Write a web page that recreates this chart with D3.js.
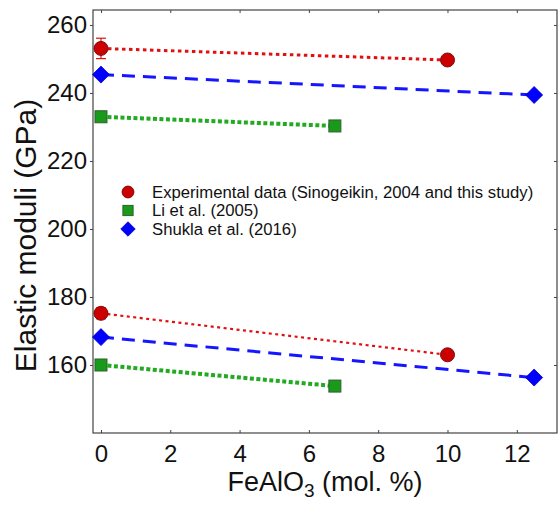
<!DOCTYPE html>
<html>
<head>
<meta charset="utf-8">
<script src="https://cdn.jsdelivr.net/npm/d3@7"></script>
<style>
  html, body { margin: 0; padding: 0; background: #fff; }
  svg { display: block; font-family: Arial, "Liberation Sans", Helvetica, sans-serif; }
</style>
</head>
<body>
<svg id="chart" width="558" height="509"></svg>
<script>
// FeAlO3 content (mol. %) and elastic moduli (GPa)
const xTicks = [0, 2, 4, 6, 8, 10, 12];
const yTicks = [160, 180, 200, 220, 240, 260];

// Upper group and lower group of moduli for each source
const expX = [0, 10];
const expUpper = [253.1, 249.7];
const expUpperErr = [3.0, 0];
const expLower = [175.2, 163.0];
const expLowerErr = [1.6, 0];

const liX = [0, 6.75];
const liUpper = [233.0, 230.3];
const liLower = [160.0, 153.8];

const shuklaX = [0, 12.5];
const shuklaUpper = [245.4, 239.4];
const shuklaLower = [168.2, 156.3];

const legendLabels = [
  "Experimental data (Sinogeikin, 2004 and this study)",
  "Li et al. (2005)",
  "Shukla et al. (2016)"
];

const svg = d3.select("#chart");
const margin = { left: 93, right: 1, top: 10, bottom: 76 };
const W = 558, H = 509;

const x = d3.scaleLinear().domain([-0.23, 13.16]).range([margin.left, W - margin.right]);
const y = d3.scaleLinear().domain([140, 264.4]).range([H - margin.bottom, margin.top]);

const frameColor = "#444";

// Axes
const gx = svg.append("g").attr("transform", `translate(0,${H - margin.bottom})`)
  .call(d3.axisBottom(x).tickValues(xTicks).tickSize(-3).tickPadding(12).tickFormat(d3.format("d")));
const gy = svg.append("g").attr("transform", `translate(${margin.left},0)`)
  .call(d3.axisLeft(y).tickValues(yTicks).tickSize(3).tickPadding(3).tickFormat(d3.format("d")));
const gt = svg.append("g").attr("transform", `translate(0,${margin.top})`)
  .call(d3.axisTop(x).tickValues(xTicks).tickSize(-3).tickFormat(""));
const gr = svg.append("g").attr("transform", `translate(${W - margin.right},0)`)
  .call(d3.axisRight(y).tickValues(yTicks).tickSize(-3).tickFormat(""));

[gx, gy, gt, gr].forEach(g => {
  g.select(".domain").remove();
  g.selectAll("line").attr("stroke", frameColor);
});
gx.selectAll("text").attr("font-size", 24).attr("fill", "#111");
gy.selectAll("text").attr("font-size", 24).attr("fill", "#111");

svg.append("rect")
  .attr("x", margin.left).attr("y", margin.top)
  .attr("width", W - margin.right - margin.left)
  .attr("height", H - margin.bottom - margin.top)
  .attr("fill", "none").attr("stroke", frameColor).attr("stroke-width", 1.2);

// Lines
const line = (xs) => d3.line().x((d, i) => x(xs[i])).y(d => y(d));

function drawLine(xs, ys, color, width, dash) {
  svg.append("path").datum(ys)
    .attr("d", line(xs))
    .attr("fill", "none")
    .attr("stroke", color)
    .attr("stroke-width", width)
    .attr("stroke-dasharray", dash);
}

const red = "#e01010", green = "#22aa22", blue = "#1515ff";
drawLine(expX, expUpper, red, 3, "3.5,3.5");
drawLine(expX, expLower, red, 2.2, "3,3.5");
drawLine(liX, liUpper, green, 4, "4,2.5");
drawLine(liX, liLower, green, 4, "4,2.5");
drawLine(shuklaX, shuklaUpper, blue, 3, "13,8");
drawLine(shuklaX, shuklaLower, blue, 3, "13,8");

// Error bars
function drawErr(xs, ys, errs) {
  ys.forEach((v, i) => {
    if (!errs[i]) return;
    const cx = x(xs[i]);
    const g = svg.append("g").attr("stroke", red).attr("stroke-width", 1.2);
    g.append("line").attr("x1", cx).attr("x2", cx).attr("y1", y(v - errs[i])).attr("y2", y(v + errs[i]));
    g.append("line").attr("x1", cx - 5).attr("x2", cx + 5).attr("y1", y(v - errs[i])).attr("y2", y(v - errs[i]));
    g.append("line").attr("x1", cx - 5).attr("x2", cx + 5).attr("y1", y(v + errs[i])).attr("y2", y(v + errs[i]));
  });
}
drawErr(expX, expUpper, expUpperErr);
drawErr(expX, expLower, expLowerErr);

// Marker shapes, scalable for the legend
const markers = {
  circle: (g, s) => g.append("circle").attr("r", 7 * s).attr("fill", "#cc0000").attr("stroke", "#7a1010").attr("stroke-width", 1),
  square: (g, s) => g.append("rect").attr("x", -6 * s).attr("y", -6 * s).attr("width", 12 * s).attr("height", 12 * s)
    .attr("fill", "#1a9a1a").attr("stroke", "#2f5f2f").attr("stroke-width", 1),
  diamond: (g, s) => g.append("path")
    .attr("d", `M0,${-8.5 * s}L${8.5 * s},0L0,${8.5 * s}L${-8.5 * s},0Z`)
    .attr("fill", "#0000ff").attr("stroke", "#0000cc").attr("stroke-width", 0.8)
};

function drawMarkers(xs, ys, kind) {
  ys.forEach((v, i) => {
    const g = svg.append("g").attr("transform", `translate(${x(xs[i])},${y(v)})`);
    markers[kind](g, 1);
  });
}
drawMarkers(expX, expUpper, "circle");
drawMarkers(expX, expLower, "circle");
drawMarkers(liX, liUpper, "square");
drawMarkers(liX, liLower, "square");
drawMarkers(shuklaX, shuklaUpper, "diamond");
drawMarkers(shuklaX, shuklaLower, "diamond");

// Legend
const legendKinds = ["circle", "square", "diamond"];
const legendY = [192, 210.5, 229];
legendLabels.forEach((label, i) => {
  const g = svg.append("g").attr("transform", `translate(128,${legendY[i]})`);
  markers[legendKinds[i]](g, 0.85);
  g.append("text").attr("x", 24).attr("dy", "0.35em")
    .attr("font-size", 16.7).attr("fill", "#111").text(label);
});

// Axis titles
const xt = svg.append("text")
  .attr("x", (margin.left + W - margin.right) / 2).attr("y", 491)
  .attr("text-anchor", "middle").attr("font-size", 27).attr("fill", "#111");
xt.append("tspan").text("FeAlO");
xt.append("tspan").attr("font-size", 19).attr("dy", 6).text("3");
xt.append("tspan").attr("dy", -6).text(" (mol. %)");

svg.append("text")
  .attr("transform", `translate(36,${(margin.top + H - margin.bottom) / 2 + 14}) rotate(-90)`)
  .attr("text-anchor", "middle").attr("font-size", 30).attr("fill", "#111")
  .text("Elastic moduli (GPa)");
</script>
</body>
</html>
